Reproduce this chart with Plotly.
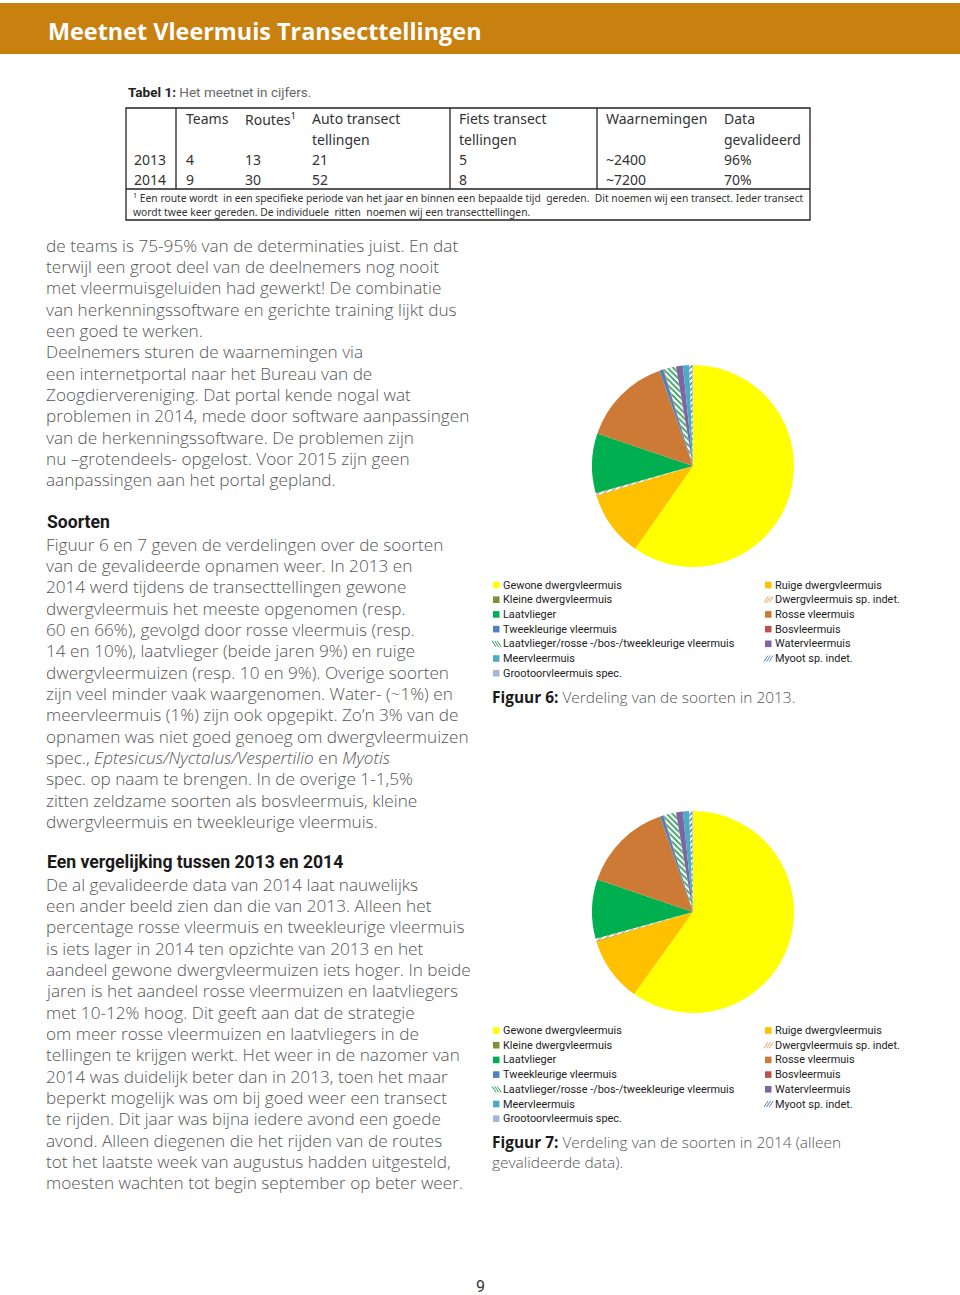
import plotly.graph_objects as go

W, H = 960, 1295

# ---------------- data ----------------
species = [
    "Gewone dwergvleermuis", "Ruige dwergvleermuis",
    "Kleine dwergvleermuis", "Dwergvleermuis sp. indet.",
    "Laatvlieger", "Rosse vleermuis",
    "Tweekleurige vleermuis", "Bosvleermuis",
    "Laatvlieger/rosse -/bos-/tweekleurige vleermuis", "Watervleermuis",
    "Meervleermuis", "Myoot sp. indet.",
    "Grootoorvleermuis spec.",
]
values_2013 = [60.0, 10.5, 0.1, 0.4, 9.6, 14.5, 0.6, 0.1, 2.0, 1.1, 1.0, 0.5, 0.1]
values_2014 = [60.2, 10.4, 0.1, 0.4, 9.5, 14.6, 0.5, 0.1, 2.0, 1.1, 1.0, 0.5, 0.1]
colors = ["#FFFF00", "#FFC000", "#77933C", "#E9A15E", "#00B050", "#CC7A36",
          "#4F81BD", "#C0504D", "#2E9E5B", "#8064A2", "#4BACC6", "#5B84C4", "#A6B6D6"]
hatch = ["", "", "", "/", "", "", "", "", "\\", "", "", "/", ""]

table_header = ["", "Teams", "Routes<sup>1</sup>", "Auto transect<br>tellingen",
                "Fiets transect<br>tellingen", "Waarnemingen", "Data<br>gevalideerd"]
table_years = ["2013", "2014"]
table_teams = [4, 9]
table_routes = [13, 30]
table_auto = [21, 52]
table_fiets = [5, 8]
table_waarnemingen = ["~2400", "~7200"]
table_gevalideerd = ["96%", "70%"]
table_footnote = [
    "<sup>1</sup> Een route wordt  in een specifieke periode van het jaar en binnen een bepaalde tijd  gereden.  Dit noemen wij een transect. Ieder transect",
    "wordt twee keer gereden. De individuele  ritten  noemen wij een transecttellingen.",
]

para1 = [
    "de teams is 75-95% van de determinaties juist. En dat",
    "terwijl een groot deel van de deelnemers nog nooit",
    "met vleermuisgeluiden had gewerkt! De combinatie",
    "van herkenningssoftware en gerichte training lijkt dus",
    "een goed te werken.",
    "Deelnemers sturen de waarnemingen via",
    "een internetportal naar het Bureau van de",
    "Zoogdiervereniging. Dat portal kende nogal wat",
    "problemen in 2014, mede door software aanpassingen",
    "van de herkenningssoftware. De problemen zijn",
    "nu –grotendeels- opgelost. Voor 2015 zijn geen",
    "aanpassingen aan het portal gepland.",
]
para2 = [
    "Figuur 6 en 7 geven de verdelingen over de soorten",
    "van de gevalideerde opnamen weer. In 2013 en",
    "2014 werd tijdens de transecttellingen gewone",
    "dwergvleermuis het meeste opgenomen (resp.",
    "60 en 66%), gevolgd door rosse vleermuis (resp.",
    "14 en 10%), laatvlieger (beide jaren 9%) en ruige",
    "dwergvleermuizen (resp. 10 en 9%). Overige soorten",
    "zijn veel minder vaak waargenomen. Water- (~1%) en",
    "meervleermuis (1%) zijn ook opgepikt. Zo’n 3% van de",
    "opnamen was niet goed genoeg om dwergvleermuizen",
    "spec., <i>Eptesicus/Nyctalus/Vespertilio</i> en <i>Myotis</i>",
    "spec. op naam te brengen. In de overige 1-1,5%",
    "zitten zeldzame soorten als bosvleermuis, kleine",
    "dwergvleermuis en tweekleurige vleermuis.",
]
para3 = [
    "De al gevalideerde data van 2014 laat nauwelijks",
    "een ander beeld zien dan die van 2013. Alleen het",
    "percentage rosse vleermuis en tweekleurige vleermuis",
    "is iets lager in 2014 ten opzichte van 2013 en het",
    "aandeel gewone dwergvleermuizen iets hoger. In beide",
    "jaren is het aandeel rosse vleermuizen en laatvliegers",
    "met 10-12% hoog. Dit geeft aan dat de strategie",
    "om meer rosse vleermuizen en laatvliegers in de",
    "tellingen te krijgen werkt. Het weer in de nazomer van",
    "2014 was duidelijk beter dan in 2013, toen het maar",
    "beperkt mogelijk was om bij goed weer een transect",
    "te rijden. Dit jaar was bijna iedere avond een goede",
    "avond. Alleen diegenen die het rijden van de routes",
    "tot het laatste week van augustus hadden uitgesteld,",
    "moesten wachten tot begin september op beter weer.",
]


def X(p):
    return p / W


def Y(p):
    return 1 - p / H


BODY = dict(family="Open Sans", size=17.2, color="#555555", weight=300)
HEAD = dict(family="Roboto", size=17.6, color="#1a1a1a", weight=700)
LEG = dict(family="Roboto", size=10.9, color="#222222")
TAB = dict(family="Noto Sans", size=14, color="#333333")

fig = go.Figure()


# ---------------- pies ----------------
def add_pie(vals, cx, cy, r):
    fig.add_trace(go.Pie(
        labels=species, values=vals, sort=False, direction="clockwise", rotation=0,
        textinfo="none", hoverinfo="label+percent", showlegend=False,
        marker=dict(colors=colors, line=dict(width=0),
                    pattern=dict(shape=hatch, fgcolor=colors, bgcolor="white",
                                 size=4, solidity=0.45, fillmode="replace")),
        domain=dict(x=[X(cx - r), X(cx + r)], y=[Y(cy + r), Y(cy - r)]),
    ))


add_pie(values_2013, 693, 466, 101)
add_pie(values_2014, 693, 912, 101)

shapes = []
annotations = []


def txt(t, x, y, font, xanchor="left"):
    annotations.append(dict(text=t, x=X(x), y=Y(y), xref="paper", yref="paper",
                            xanchor=xanchor, yanchor="middle", showarrow=False, font=font))


# header bar
shapes.append(dict(type="rect", xref="paper", yref="paper", x0=0, x1=1, y0=Y(54), y1=Y(3),
                   fillcolor="#C8800F", line=dict(width=0), layer="below"))
txt("<b>Meetnet Vleermuis Transecttellingen</b>", 46, 31,
    dict(family="Open Sans", size=23.4, color="white"))

# table caption
txt("<b>Tabel 1:</b> <span style='color:#666'>Het meetnet in cijfers.</span>", 126, 92,
    dict(family="Roboto", size=13.5, color="#222222"))

# ---------------- table ----------------
ln = dict(color="#222222", width=1.3)
shapes.append(dict(type="rect", xref="paper", yref="paper", x0=X(126), x1=X(810),
                   y0=Y(220), y1=Y(108), line=ln))
shapes.append(dict(type="line", xref="paper", yref="paper", x0=X(126), x1=X(810),
                   y0=Y(189), y1=Y(189), line=ln))
for vx in [176, 450, 597]:
    shapes.append(dict(type="line", xref="paper", yref="paper", x0=X(vx), x1=X(vx),
                       y0=Y(189), y1=Y(108), line=ln))

col_x = [132, 184, 243, 310, 457, 604, 722]
for cxp, head in zip(col_x, table_header):
    for k, part in enumerate(head.split("<br>")):
        if part:
            txt(part, cxp, 119 + 20 * k, TAB)
columns = [table_years, table_teams, table_routes, table_auto, table_fiets,
           table_waarnemingen, table_gevalideerd]
for cxp, col in zip(col_x, columns):
    for r, v in enumerate(col):
        txt(str(v), cxp, 159 + 21 * r, TAB)
for k, t in enumerate(table_footnote):
    txt(t, 131, 198 + 14 * k, dict(family="Noto Sans", size=10.3, color="#333333"))


def add_lines(lines, y0, step=21.35):
    for i, t in enumerate(lines):
        txt(t, 44, y0 + i * step, BODY)


add_lines(para1, 245)
txt("Soorten", 45, 522, HEAD)
add_lines(para2, 544)
txt("Een vergelijking tussen 2013 en 2014", 45, 862, HEAD)
add_lines(para3, 884)


# legends (drawn with shapes + text)
def add_legend(ytop):
    for i, name in enumerate(species):
        row, col = i // 2, i % 2
        sx = 493 if col == 0 else 765
        cy = ytop + row * 14.7
        c = colors[i]
        if hatch[i] == "":
            shapes.append(dict(type="rect", xref="paper", yref="paper", x0=X(sx), x1=X(sx + 6.5),
                               y0=Y(cy + 3.3), y1=Y(cy - 3.3), fillcolor=c, line=dict(width=0)))
        else:
            for k in range(3):
                ox = sx + k * 2.6
                if hatch[i] == "/":
                    shapes.append(dict(type="line", xref="paper", yref="paper", x0=X(ox - 1),
                                       x1=X(ox + 3), y0=Y(cy + 3), y1=Y(cy - 3),
                                       line=dict(color=c, width=1)))
                else:
                    shapes.append(dict(type="line", xref="paper", yref="paper", x0=X(ox - 1),
                                       x1=X(ox + 3), y0=Y(cy - 3), y1=Y(cy + 3),
                                       line=dict(color=c, width=1)))
        txt(name, sx + 8, cy, LEG)


add_legend(585)
add_legend(1030.5)

CAP = dict(BODY, size=15.45)
CAP_B = "<b><span style='color:#1a1a1a'>%s</span></b>"
txt(CAP_B % "Figuur 6:" + " Verdeling van de soorten in 2013.", 490, 697, CAP)
txt(CAP_B % "Figuur 7:" + " Verdeling van de soorten in 2014 (alleen", 490, 1142, CAP)
txt("gevalideerde data).", 490, 1162, CAP)

txt("9", 480, 1286, dict(family="Roboto", size=16, color="#333333"), xanchor="center")

fig.update_layout(
    width=W, height=H, margin=dict(l=0, r=0, t=0, b=0),
    paper_bgcolor="white", plot_bgcolor="white",
    shapes=shapes, annotations=annotations, showlegend=False,
)

fig.write_html("out.html", config={"displayModeBar": False},
               post_script="document.body.style.margin='0px';document.body.style.overflow='hidden';")
